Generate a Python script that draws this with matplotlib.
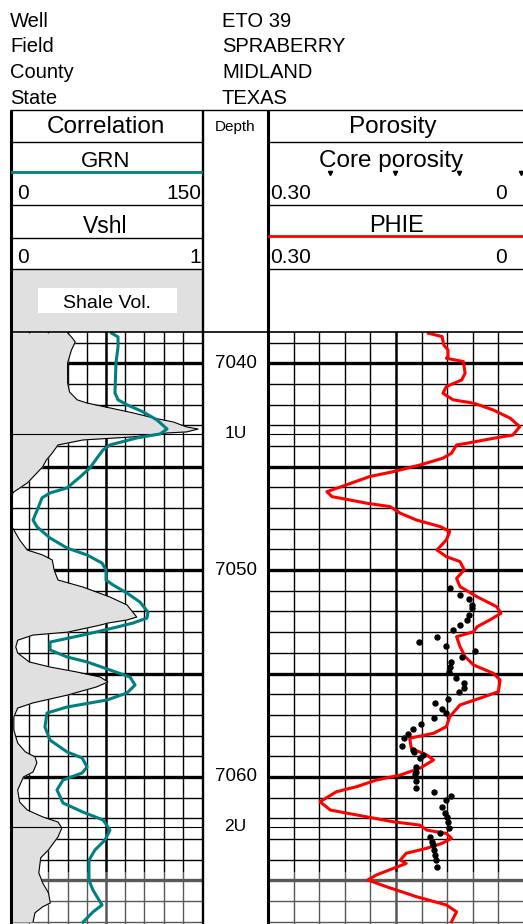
import numpy as np
import matplotlib.pyplot as plt
from matplotlib.patches import Rectangle

plt.rcParams['font.family'] = ['Liberation Sans', 'DejaVu Sans']

W, H = 523, 924

# well header
header_keys = ['Well', 'Field', 'County', 'State']
header_vals = ['ETO 39', 'SPRABERRY', 'MIDLAND', 'TEXAS']

# gamma ray (GRN, 0-150)
grn_depth = [7038.55, 7038.73, 7039.21, 7039.99, 7041.44, 7041.77, 7042.01, 7042.35, 7042.74, 7043.18,
             7043.42, 7043.61, 7043.95, 7044.19, 7044.58, 7045.06, 7045.50, 7046.03, 7046.27, 7046.51,
             7047.00, 7047.58, 7047.91, 7048.45, 7048.93, 7049.27, 7049.66, 7050.00, 7050.48, 7050.72,
             7051.11, 7051.55, 7052.03, 7052.32, 7052.56, 7052.80, 7053.14, 7053.48, 7053.86, 7054.20,
             7054.44, 7054.83, 7055.17, 7055.56, 7055.94, 7056.28, 7056.62, 7056.91, 7057.59, 7058.22,
             7058.79, 7059.08, 7059.52, 7059.81, 7060.15, 7060.63, 7061.26, 7061.70, 7062.08, 7062.57,
             7063.05, 7063.53, 7064.02, 7064.99, 7065.47, 7066.19, 7066.53, 7067.02]
grn = [79.5, 84.4, 84.4, 82.8, 82.0, 84.4, 91.4, 103.9, 114.8, 122.7,
       117.2, 99.2, 78.1, 72.7, 68.0, 62.5, 54.7, 44.5, 31.3, 25.0,
       21.9, 18.0, 21.1, 31.3, 44.5, 60.2, 71.9, 75.0, 75.0, 80.5,
       91.4, 101.6, 107.8, 107.0, 96.1, 80.5, 57.0, 31.3, 31.3, 44.5,
       60.2, 78.1, 93.8, 97.7, 91.4, 75.8, 44.5, 28.9, 27.3, 31.3,
       44.5, 56.3, 60.2, 56.3, 41.4, 36.7, 41.4, 57.0, 72.7, 78.1,
       74.2, 66.4, 61.7, 61.7, 64.8, 71.9, 64.8, 57.0]

# shale volume (0-1)
vshl_depth = [7038.53, 7038.73, 7038.97, 7039.36, 7039.99, 7040.95, 7041.39, 7041.77, 7041.92, 7042.16,
              7042.40, 7042.65, 7042.84, 7043.08, 7043.18, 7043.32, 7043.37, 7043.56, 7043.71, 7043.95,
              7044.34, 7044.67, 7045.01, 7045.50, 7045.79, 7046.22, 7046.37, 7047.19, 7047.91, 7048.06,
              7048.54, 7049.03, 7049.27, 7049.51, 7050.00, 7050.48, 7050.82, 7051.30, 7051.69, 7052.27,
              7052.41, 7052.56, 7052.66, 7053.00, 7053.14, 7053.39, 7053.72, 7054.01, 7054.44, 7054.69,
              7054.93, 7055.17, 7055.41, 7055.65, 7056.04, 7056.42, 7056.67, 7057.10, 7057.73, 7058.36,
              7058.79, 7059.03, 7059.32, 7059.76, 7060.00, 7060.63, 7061.21, 7061.60, 7061.93, 7062.18,
              7062.47, 7062.90, 7063.53, 7063.91, 7064.64, 7065.12, 7065.60, 7066.09, 7066.28, 7066.57,
              7067.01]
vshl = [0.30, 0.32, 0.34, 0.32, 0.30, 0.30, 0.31, 0.35, 0.40, 0.52,
        0.64, 0.75, 0.85, 0.92, 0.98, 0.92, 0.82, 0.64, 0.38, 0.25,
        0.22, 0.19, 0.17, 0.12, 0.09, 0.02, 0.01, 0.005, 0.01, 0.02,
        0.05, 0.09, 0.17, 0.22, 0.23, 0.25, 0.38, 0.52, 0.61, 0.66,
        0.61, 0.51, 0.47, 0.30, 0.12, 0.04, 0.03, 0.04, 0.10, 0.21,
        0.35, 0.47, 0.51, 0.45, 0.30, 0.12, 0.04, 0.02, 0.02, 0.04,
        0.08, 0.13, 0.14, 0.12, 0.07, 0.04, 0.05, 0.09, 0.17, 0.25,
        0.27, 0.25, 0.20, 0.16, 0.15, 0.17, 0.20, 0.21, 0.17, 0.13,
        0.12]

# effective porosity
phie_depth = [7038.55, 7038.71, 7039.12, 7039.36, 7039.68, 7039.76, 7039.92, 7040.48, 7040.81, 7041.13,
              7041.45, 7041.77, 7041.93, 7042.26, 7042.66, 7043.07, 7043.47, 7043.63, 7043.87, 7043.95,
              7044.35, 7044.59, 7044.92, 7045.24, 7045.48, 7045.88, 7046.21, 7046.45, 7046.61, 7046.77,
              7046.93, 7047.25, 7047.58, 7047.90, 7048.14, 7048.54, 7049.03, 7049.35, 7049.59, 7049.99,
              7050.40, 7050.80, 7051.29, 7051.77, 7052.09, 7052.41, 7052.74, 7052.98, 7053.22, 7053.70,
              7054.19, 7054.59, 7054.99, 7055.31, 7055.88, 7056.20, 7056.52, 7057.09, 7057.57, 7057.89,
              7058.13, 7058.62, 7058.94, 7059.18, 7059.58, 7059.91, 7060.15, 7060.47, 7060.72, 7061.20,
              7061.60, 7061.84, 7062.17, 7062.33, 7062.57, 7062.73, 7062.97, 7063.21, 7063.45, 7063.69,
              7064.02, 7064.18, 7064.42, 7064.74, 7064.98, 7065.31, 7065.79, 7066.19, 7066.52, 7067.00]
phie = [0.112, 0.096, 0.094, 0.089, 0.089, 0.091, 0.071, 0.069, 0.073, 0.091,
        0.095, 0.083, 0.059, 0.036, 0.016, 0.005, 0.013, 0.036, 0.067, 0.079,
        0.085, 0.095, 0.122, 0.153, 0.181, 0.208, 0.231, 0.225, 0.204, 0.184,
        0.157, 0.145, 0.126, 0.098, 0.087, 0.091, 0.102, 0.091, 0.075, 0.070,
        0.079, 0.075, 0.055, 0.032, 0.027, 0.040, 0.055, 0.059, 0.079, 0.075,
        0.069, 0.059, 0.036, 0.028, 0.030, 0.052, 0.075, 0.087, 0.091, 0.106,
        0.134, 0.132, 0.114, 0.106, 0.122, 0.145, 0.173, 0.196, 0.220, 0.239,
        0.227, 0.196, 0.153, 0.122, 0.114, 0.091, 0.085, 0.096, 0.114, 0.138,
        0.145, 0.138, 0.153, 0.173, 0.183, 0.161, 0.126, 0.091, 0.079, 0.085]

# core plug porosity
core_depth = [7050.88, 7051.20, 7051.41, 7051.69, 7051.85, 7052.17, 7052.41, 7052.65, 7052.90, 7053.22,
              7053.46, 7053.67, 7053.91, 7054.22, 7054.43, 7054.67, 7054.91, 7055.20, 7055.44, 7055.72,
              7055.91, 7056.23, 7056.44, 7056.73, 7056.92, 7057.17, 7057.46, 7057.70, 7057.93, 7058.13,
              7058.49, 7058.70, 7058.81, 7058.94, 7059.10, 7059.51, 7059.75, 7059.88, 7060.18, 7060.52,
              7060.72, 7060.92, 7061.12, 7061.47, 7061.73, 7061.92, 7062.17, 7062.49, 7062.73, 7062.92,
              7063.13, 7063.29, 7063.53, 7063.78, 7064.02, 7064.34]
core_phi = [0.087, 0.075, 0.065, 0.061, 0.061, 0.064, 0.067, 0.075, 0.083, 0.102,
            0.123, 0.091, 0.057, 0.073, 0.085, 0.087, 0.088, 0.080, 0.070, 0.070,
            0.076, 0.089, 0.104, 0.096, 0.091, 0.106, 0.121, 0.130, 0.136, 0.141,
            0.143, 0.130, 0.129, 0.118, 0.122, 0.126, 0.127, 0.128, 0.127, 0.127,
            0.106, 0.086, 0.091, 0.096, 0.093, 0.090, 0.089, 0.088, 0.098, 0.110,
            0.108, 0.107, 0.106, 0.104, 0.103, 0.102]

depth_labels = [7040, 7050, 7060]
tops = ['1U', '2U']
top_depth = [7043.42, 7062.42]

top, base = 7038.49, 7067.11
faded_from = 7064.6

fig = plt.figure(figsize=(W / 100, H / 100), dpi=100)


def track(x0, x1):
    ax = fig.add_axes([x0 / W, 0, (x1 - x0) / W, 592 / H])
    ax.set_ylim(base, top)
    for s in ax.spines.values():
        s.set_visible(False)
    ax.set_xticks([])
    ax.set_yticks([])
    return ax


def grid(ax, xmin, xmax):
    for d in range(7039, 7068):
        ax.axhline(d, color='black', lw=2.4 if d % 5 == 0 else 1.0, zorder=1)
    for i in range(1, 10):
        ax.axvline(xmin + (xmax - xmin) * i / 10, color='black',
                   lw=1.8 if i == 5 else 1.0, zorder=1)
    ax.axhspan(faded_from, base, color='white', alpha=0.35, lw=0, zorder=1.5)


# correlation track: shale volume fill with GR on top
ax_l = track(10, 202)
ax_l.set_xlim(0, 1)
grid(ax_l, 0, 1)
ax_l.fill_betweenx(vshl_depth, 0, vshl, color='#e0e0e0', lw=0, zorder=2)
ax_l.plot(vshl, vshl_depth, color='black', lw=0.8, zorder=3)
for d in top_depth:
    ax_l.axhline(d, color='black', lw=0.8, zorder=3)

ax_g = ax_l.twiny()
ax_g.set_xlim(0, 150)
ax_g.set_ylim(base, top)
for s in ax_g.spines.values():
    s.set_visible(False)
ax_g.set_xticks([])
ax_g.plot(grn, grn_depth, color='#008080', lw=2.2, zorder=4)

# depth track
ax_d = track(203, 268)
ax_d.set_xlim(0, 1)
for d in depth_labels:
    ax_d.text(0.5, d, str(d), ha='center', va='center', fontsize=13.5)
for name, d in zip(tops, top_depth):
    ax_d.text(0.5, d, name, ha='center', va='center', fontsize=12.5)

# porosity track
ax_r = track(268, 524)
ax_r.set_xlim(0.30, 0)
grid(ax_r, 0.30, 0)
for d in top_depth:
    ax_r.axhline(d, color='black', lw=0.8, zorder=3)
ax_r.plot(phie, phie_depth, color='red', lw=2.2, zorder=4)
ax_r.plot(core_phi, core_depth, 'o', color='black', ms=3.6, zorder=5)

# header and track frames in pixel units
ax0 = fig.add_axes([0, 0, 1, 1], zorder=10)
ax0.set_xlim(0, W)
ax0.set_ylim(H, 0)
ax0.axis('off')
ax0.patch.set_visible(False)

for i, (k, v) in enumerate(zip(header_keys, header_vals)):
    y = 26.7 + 25.6 * i
    ax0.text(10, y, k, fontsize=14.5, va='baseline')
    ax0.text(222, y, v, fontsize=14.5, va='baseline')

ax0.add_patch(Rectangle((10, 269), 192, 63, fc='#e0e0e0', ec='none', zorder=1))
ax0.add_patch(Rectangle((38, 288), 139, 25, fc='white', ec='none', zorder=2))

k = dict(color='black', solid_capstyle='butt', zorder=3)
ax0.plot([10, 523], [110, 110], lw=1.0, **k)
ax0.plot([10, 523], [332, 332], lw=1.2, **k)
ax0.plot([10.5, 10.5], [110, 924], lw=2.2, **k)
ax0.plot([203, 203], [110, 924], lw=1.7, **k)
ax0.plot([267.5, 267.5], [110, 924], lw=2.2, **k)
for y in [142, 205, 238, 269]:
    ax0.plot([10, 202], [y, y], lw=1.0, **k)
for y in [142, 205, 269]:
    ax0.plot([268, 523], [y, y], lw=1.0, **k)
ax0.plot([12, 201], [172, 172], color='#008080', lw=2.0, zorder=3)
ax0.plot([269, 523], [236, 236], color='red', lw=2.0, zorder=3)
ax0.plot([330, 395, 459, 521], [173, 173, 173, 173], 'v', color='black', ms=3, zorder=3)

ax0.text(106, 133.3, 'Correlation', ha='center', va='baseline', fontsize=17.5)
ax0.text(235.5, 130.7, 'Depth', ha='center', va='baseline', fontsize=11)
ax0.text(393, 133.3, 'Porosity', ha='center', va='baseline', fontsize=17.5)
ax0.text(106, 166.7, 'GRN', ha='center', va='baseline', fontsize=16)
ax0.text(391, 166.7, 'Core porosity', ha='center', va='baseline', fontsize=17.5)
ax0.text(105, 233.3, 'Vshl', ha='center', va='baseline', fontsize=16.5)
ax0.text(397, 231.7, 'PHIE', ha='center', va='baseline', fontsize=17)
for y, right in [(199, '150'), (263.3, '1')]:
    ax0.text(17, y, '0', va='baseline', fontsize=15)
    ax0.text(201, y, right, ha='right', va='baseline', fontsize=15)
for y in [199, 263.3]:
    ax0.text(270, y, '0.30', va='baseline', fontsize=15)
    ax0.text(507, y, '0', ha='right', va='baseline', fontsize=15)
ax0.text(107, 308.3, 'Shale Vol.', ha='center', va='baseline', fontsize=14, zorder=4)

fig.savefig('out.png', dpi=100)
